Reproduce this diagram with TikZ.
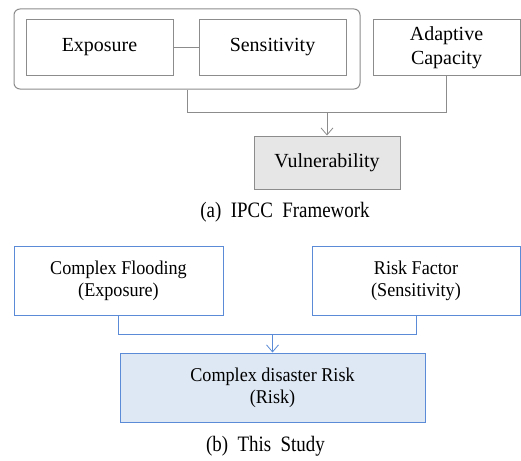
\documentclass[tikz,border=0pt]{standalone}
\usepackage{fontspec}
\setmainfont{Liberation Serif}
\newfontfamily\boxfont[FakeStretch=0.999]{Liberation Serif}
\newfontfamily\capfont[FakeStretch=0.86]{Liberation Serif}
\newfontfamily\tightfont[FakeStretch=0.93]{Liberation Serif}
\usetikzlibrary{arrows.meta}
\definecolor{gline}{HTML}{8C8C8C}
\definecolor{bline}{HTML}{5B8BD6}
\definecolor{gfill}{HTML}{E6E6E6}
\definecolor{bfill}{HTML}{DEE8F4}
\tikzset{
  gbox/.style={draw=gline, line width=1pt, fill=white, inner sep=0pt, align=center, font=\boxfont\fontsize{20}{24}\selectfont},
  bbox/.style={draw=bline, line width=1pt, fill=white, inner sep=0pt, align=center, font=\tightfont\fontsize{19.5}{22}\selectfont},
  gcon/.style={draw=gline, line width=1pt},
  bcon/.style={draw=bline, line width=1pt},
  arrowtip/.style={-{Straight Barb[length=7pt,width=12pt,line width=0.8pt]}},
  captext/.style={inner sep=0pt, font=\capfont\fontsize{22}{24}\selectfont}
}
\begin{document}
\begin{tikzpicture}[x=1pt,y=-1pt]
\useasboundingbox (0,0) rectangle (521,460);
% (a) IPCC framework
\node[draw=gline, line width=1pt, rounded corners=6pt, minimum width=346pt, minimum height=80pt, inner sep=0pt] (grp) at (187,49) {};
\node[gbox, minimum width=147pt, minimum height=55pt] (exp) at (99.5,47.5) {Exposure};
\node[gbox, minimum width=147pt, minimum height=55pt] (sen) at (272.5,47.5) {Sensitivity};
\node[gbox, minimum width=147pt, minimum height=55pt] (ada) at (446.5,47.5) {Adaptive\\Capacity};
\node[gbox, fill=gfill, minimum width=146pt, minimum height=53pt] (vul) at (327,162.5) {Vulnerability};
\draw[gcon] (exp) -- (sen);
\coordinate (ya) at (0,112);
\draw[gcon] (grp.south) -- (grp.south |- ya) -| (ada.south);
\draw[gcon, arrowtip] (vul.north |- ya) -- (vul.north);
\node[captext] (capa) at (285,212) {(a)\ \ IPCC\ \ Framework};
% (b) This study
\node[bbox, minimum width=209pt, minimum height=69pt] (cf) at (118.5,280.5) {Complex Flooding\\(Exposure)};
\node[bbox, minimum width=208pt, minimum height=69pt] (rf) at (416,280.5) {Risk Factor\\(Sensitivity)};
\node[bbox, fill=bfill, minimum width=305pt, minimum height=69pt] (risk) at (272.5,387.5) {Complex disaster Risk\\(Risk)};
\coordinate (yb) at (0,334);
\draw[bcon] (cf.south) -- (cf.south |- yb) -| (rf.south);
\draw[bcon, arrowtip] (risk.north |- yb) -- (risk.north);
\node[captext] (capb) at (265.5,446) {(b)\ \ This\ \ Study};
\end{tikzpicture}
\end{document}
